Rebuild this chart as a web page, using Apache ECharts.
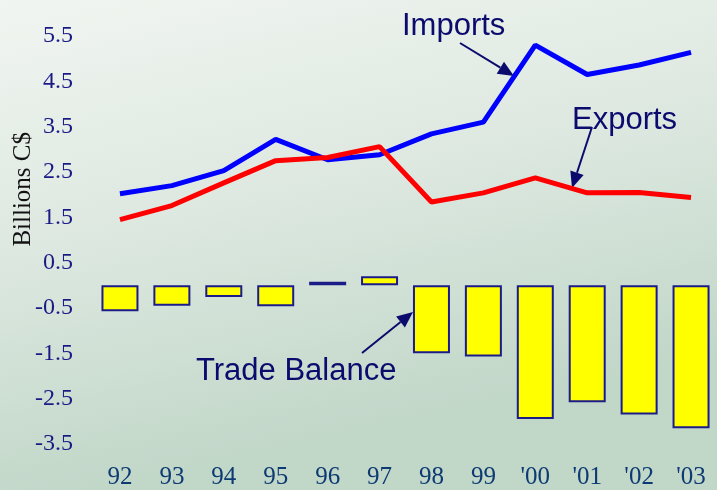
<!DOCTYPE html>
<html>
<head>
<meta charset="utf-8">
<script src="https://cdn.jsdelivr.net/npm/echarts@6/dist/echarts.min.js"></script>
<style>
  html, body { margin: 0; padding: 0; }
  #chart { width: 717px; height: 490px; }
</style>
</head>
<body>
<div id="chart"></div>
<script>
// data (billions C$)
const years = ['92', '93', '94', '95', '96', '97', '98', '99', "'00", "'01", "'02", "'03"]
const imports = [2.02, 2.20, 2.53, 3.22, 2.77, 2.88, 3.34, 3.60, 5.30, 4.65, 4.86, 5.14]
const exports = [1.45, 1.76, 2.26, 2.75, 2.82, 3.06, 1.84, 2.04, 2.37, 2.04, 2.05, 1.94]
const tradeBalance = [-0.57, -0.45, -0.26, -0.46, 0.08, 0.20, -1.50, -1.57, -2.95, -2.58, -2.85, -3.15]

const navy = '#0b0b6e'

// arrow for the text callouts: a line plus a filled head
function arrow(x1, y1, x2, y2) {
  const dx = x2 - x1, dy = y2 - y1
  const len = Math.sqrt(dx * dx + dy * dy)
  const ux = dx / len, uy = dy / len
  const hl = 16, hw = 7
  const bx = x2 - ux * hl, by = y2 - uy * hl
  return [
    {
      type: 'line',
      shape: { x1: x1, y1: y1, x2: bx, y2: by },
      style: { stroke: navy, lineWidth: 2 }
    },
    {
      type: 'polygon',
      shape: { points: [[x2, y2], [bx - uy * hw, by + ux * hw], [bx + uy * hw, by - ux * hw]] },
      style: { fill: navy }
    }
  ]
}

const label = (text, x, y) => ({
  type: 'text',
  left: x,
  top: y,
  style: { text: text, fill: navy, font: '31px "Liberation Sans", Arial, sans-serif' }
})

let chart = echarts.init(document.getElementById('chart'))
chart.setOption({
  animation: false,
  backgroundColor: {
    type: 'linear', x: 0, y: 0, x2: 0.15, y2: 1,
    colorStops: [
      { offset: 0, color: '#f1f5f1' },
      { offset: 0.5, color: '#dde8e0' },
      { offset: 1, color: '#c1d7c8' }
    ]
  },
  grid: { left: 94, width: 626, top: 36, bottom: 45 },
  xAxis: {
    type: 'category',
    data: years,
    axisLine: { show: false },
    axisTick: { show: false },
    axisLabel: {
      color: '#0d3a72',
      fontFamily: '"Liberation Serif", "Times New Roman", serif',
      fontSize: 25,
      margin: 21
    }
  },
  yAxis: {
    type: 'value',
    min: -3.5,
    max: 5.5,
    interval: 1,
    splitLine: { show: false },
    axisLine: { show: false },
    axisTick: { show: false },
    axisLabel: {
      color: '#1a1a86',
      fontFamily: '"Liberation Serif", "Times New Roman", serif',
      fontSize: 24,
      margin: 21,
      padding: [6, 0, 0, 0],
      formatter: (v) => v.toFixed(1)
    }
  },
  series: [
    {
      name: 'Trade Balance',
      type: 'bar',
      data: tradeBalance,
      barWidth: 37,
      itemStyle: { color: '#ffff00', borderColor: '#1c1c88', borderWidth: 2 }
    },
    {
      name: 'Imports',
      type: 'line',
      data: imports,
      showSymbol: false,
      lineStyle: { color: '#0000ff', width: 5 }
    },
    {
      name: 'Exports',
      type: 'line',
      data: exports,
      showSymbol: false,
      lineStyle: { color: '#ff0000', width: 5 }
    }
  ],
  graphic: [
    {
      type: 'text',
      left: 11,
      top: 132,
      rotation: Math.PI / 2,
      style: {
        text: 'Billions C$',
        fill: '#111111',
        font: '25px "Liberation Serif", "Times New Roman", serif',
        align: 'center',
        verticalAlign: 'middle'
      }
    },
    label('Imports', 402, 11),
    label('Exports', 572, 105),
    label('Trade Balance', 196, 356),
    ...arrow(460, 43, 514, 76),
    ...arrow(592, 127, 572, 188),
    ...arrow(362, 353, 413, 312)
  ]
})
</script>
</body>
</html>
